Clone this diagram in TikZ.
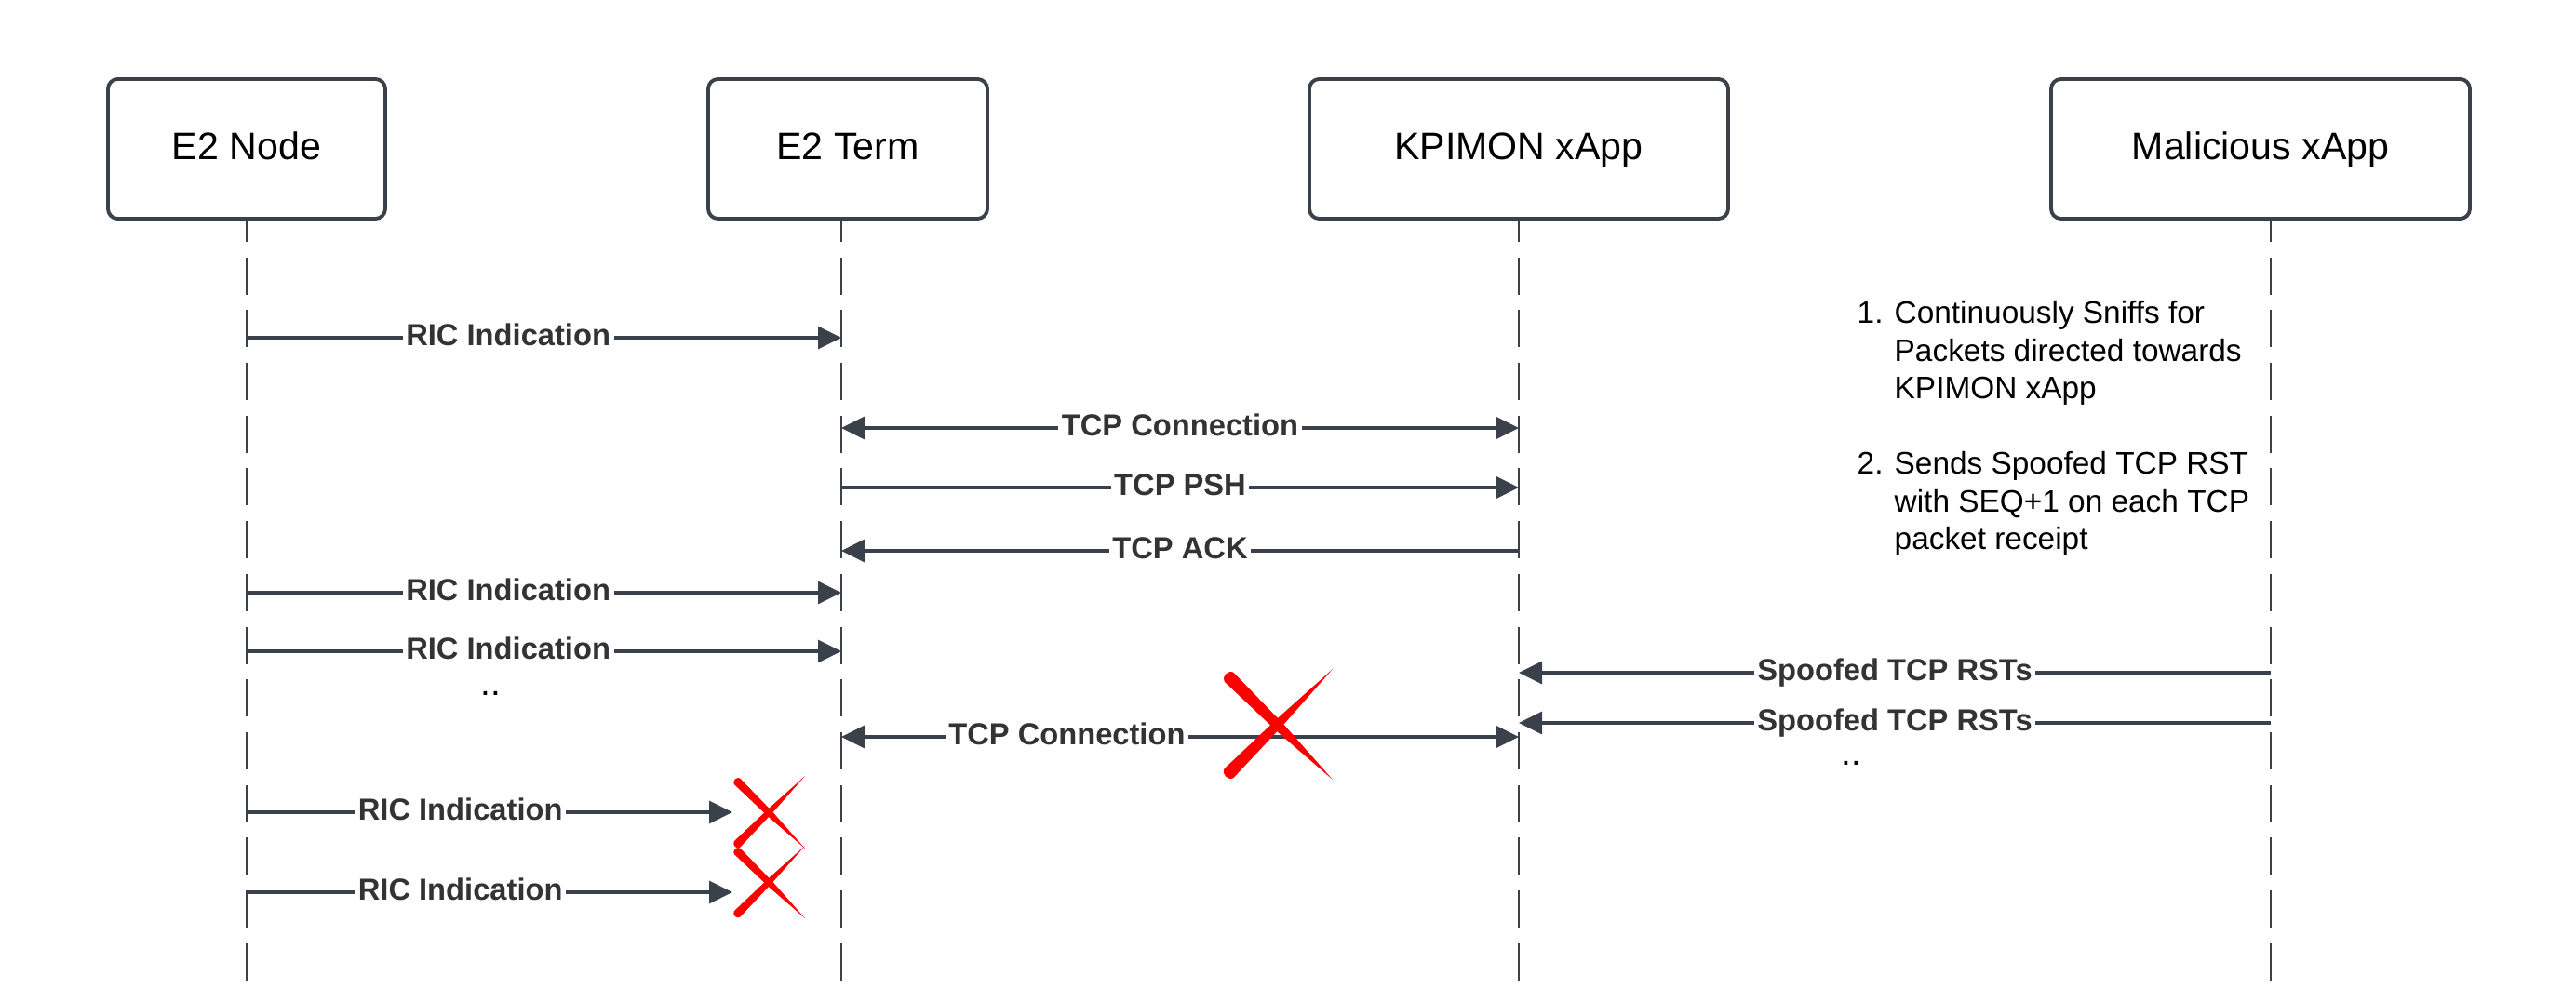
\documentclass[tikz,border=0pt]{standalone}
\usepackage{fontspec}
\setmainfont{Liberation Sans}
\usetikzlibrary{arrows.meta}
\definecolor{linegray}{HTML}{3A414A}
\definecolor{labelgray}{HTML}{333333}
\definecolor{xred}{HTML}{FF0000}
\begin{document}
\begin{tikzpicture}[
    actor/.style={draw=linegray, line width=1.1pt, rounded corners=3pt, minimum height=1.5cm, text height=0.3cm, text depth=0.07cm, font=\fontsize{11.7}{14}\selectfont},
    lifeline/.style={linegray, line width=0.8pt, dash pattern=on 0.4cm off 0.167cm, dash phase=0.17cm},
    msg/.style={linegray, line width=0.9pt, -{Triangle[length=0.25cm,width=0.24cm]}},
    both msg/.style={msg, {Triangle[length=0.25cm,width=0.24cm]}-{Triangle[length=0.25cm,width=0.24cm]}},
    lbl/.style={fill=white, inner sep=1pt, text height=0.24cm, text depth=0.07cm, text=labelgray, font=\fontsize{9.3}{11}\selectfont\bfseries},
    notes/.style={inner sep=0pt, font=\fontsize{9.5}{11.5}\selectfont},
    redx/.pic={
      \fill[xred] (-0.835,0.985) -- (0.103,0.014) -- (1,-1) -- (-0.023,-0.114) -- (-1.004,0.815)
        .. controls (-1.07,0.9) and (-0.93,1.05) .. cycle;
      \fill[xred] (-1.005,-0.795) -- (-0.017,0.141) -- (1,1.05) -- (0.097,0.029) -- (-0.835,-0.965)
        .. controls (-0.93,-1.03) and (-1.07,-0.9) .. cycle;
    }
  ]
  \useasboundingbox (0,0) rectangle (27.68,-10.63);

  \node[actor, minimum width=2.98cm] at (2.65,-1.60) (e2n) {E2 Node};
  \node[actor, minimum width=3.0cm] at (9.11,-1.60) (e2t) {E2 Term};
  \node[actor, minimum width=4.5cm] at (16.32,-1.60) (kpi) {KPIMON xApp};
  \node[actor, minimum width=4.5cm] at (24.29,-1.60) (mal) {Malicious xApp};

  \coordinate (bot) at (0,-10.63);
  \foreach \n/\dx in {e2n/0, e2t/-0.07, kpi/0, mal/0.11}{
    \coordinate (\n-line) at ([xshift=\dx cm]\n.south);
    \draw[lifeline] (\n-line) -- (\n-line |- bot);
  }

  \foreach \i/\y in {1/3.63, 2/4.60, 3/5.24, 4/5.92, 5/6.37, 6/7.00, 7/7.23, 8/7.77, 9/7.92, 10/8.73, 11/9.59}
    \coordinate (y\i) at (0,-\y);
  \coordinate (cut1) at (7.87,-8.73);
  \coordinate (cut2) at (7.87,-9.59);

  \path[every node/.style={lbl}]
    (e2n-line |- y1) edge[msg] node[pos=0.44] {RIC Indication} (e2t-line |- y1)
    (e2t-line |- y2) edge[both msg] node {TCP Connection} (kpi-line |- y2)
    (e2t-line |- y3) edge[msg] node {TCP PSH} (kpi-line |- y3)
    (kpi-line |- y4) edge[msg] node {TCP ACK} (e2t-line |- y4)
    (e2n-line |- y5) edge[msg] node[pos=0.44] {RIC Indication} (e2t-line |- y5)
    (e2n-line |- y6) edge[msg] node[pos=0.44] {RIC Indication} (e2t-line |- y6)
    (mal-line |- y7) edge[msg] node {Spoofed TCP RSTs} (kpi-line |- y7)
    (mal-line |- y8) edge[msg] node {Spoofed TCP RSTs} (kpi-line |- y8)
    (e2t-line |- y9) edge[both msg] node[pos=0.333] {TCP Connection} (kpi-line |- y9)
    (e2n-line |- y10) edge[msg] node[pos=0.44] {RIC Indication} (cut1)
    (e2n-line |- y11) edge[msg] node[pos=0.44] {RIC Indication} (cut2)
    ;

  \node[font=\fontsize{11}{13}\selectfont, anchor=base] at (5.27,-7.48) (dots1) {..};
  \node[font=\fontsize{11}{13}\selectfont, anchor=base] at (19.89,-8.23) (dots2) {..};

  \pic[scale=0.58] at (13.74,-7.80) {redx};
  \pic[scale=0.38] at (8.27,-8.74) {redx};
  \pic[scale=0.38] at (8.27,-9.49) {redx};

  \node[notes, anchor=north west] at (19.95,-3.19) (steps) {\begin{tabular}{@{}p{0.4cm}@{}l@{}}
    1. & Continuously Sniffs for\\
       & Packets directed towards\\
       & KPIMON xApp\\[11.5pt]
    2. & Sends Spoofed TCP RST\\
       & with SEQ+1 on each TCP\\
       & packet receipt
  \end{tabular}};
\end{tikzpicture}
\end{document}
